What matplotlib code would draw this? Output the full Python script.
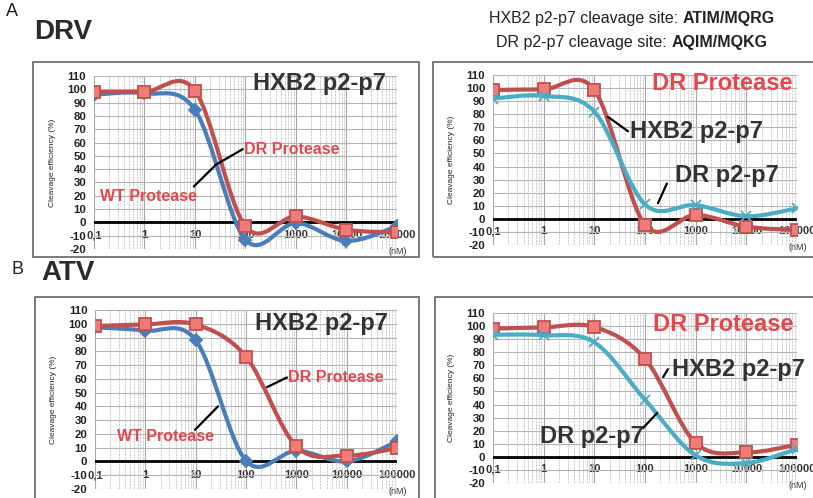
import numpy as np
import matplotlib
matplotlib.use('Agg')
import matplotlib.pyplot as plt
from matplotlib import font_manager
from matplotlib.path import Path
from matplotlib.patches import PathPatch, Rectangle

# concentrations (nM) and cleavage efficiency (%)
conc = [0.1, 1, 10, 100, 1000, 10000, 100000]
conc_labels = ['0,1', '1', '10', '100', '1000', '10000', '100000']
y_ticks = [-20, -10, 0, 10, 20, 30, 40, 50, 60, 70, 80, 90, 100, 110]

drv_wt_hxb2 = [96, 97, 84.5, -13, -0.5, -14, -3]
drv_dr_hxb2 = [98, 98, 99, -3, 4.5, -5.5, -7.5]
drv_drpr_hxb2 = [98.5, 99, 98.5, -4.5, 3, -6, -8.5]
drv_drpr_dr = [92, 94, 82, 11, 10.5, 2, 8]

atv_wt_hxb2 = [97.4, 95, 88, 0.5, 7.7, 0, 14.5]
atv_dr_hxb2 = [98.3, 99.5, 99.5, 76, 11, 4.3, 9.7]
atv_drpr_hxb2 = [98, 99, 99.3, 75, 10.6, 3.4, 9.3]
atv_drpr_dr = [93.4, 93, 87.6, 43.7, 1.1, -4.7, 6]

RED_LINE = '#C0504D'
RED_FACE = '#F07C7A'
BLUE_DARK = '#4A7EBB'
BLUE_LIGHT = '#4BACC6'
RED_TEXT = '#E5474C'
DARK_TEXT = '#333333'

names = {f.name for f in font_manager.fontManager.ttflist}
BASE = 'Liberation Sans' if 'Liberation Sans' in names else 'DejaVu Sans'
NARROW = 'Liberation Sans Narrow' if 'Liberation Sans Narrow' in names else BASE
plt.rcParams['font.family'] = BASE
plt.rcParams['axes.unicode_minus'] = False

W, H = 813, 498
fig = plt.figure(figsize=(W / 100, H / 100), dpi=100)


def px(x, y):
    return x / W, 1 - y / H


def smooth_path(x, y):
    # Excel-like smoothed line: cubic Bezier through the points (log x space)
    pts = np.column_stack([np.log10(x), y]).astype(float)
    n = len(pts)
    verts, codes = [pts[0]], [Path.MOVETO]
    for i in range(n - 1):
        p0, p1 = pts[max(i - 1, 0)], pts[i]
        p2, p3 = pts[i + 1], pts[min(i + 2, n - 1)]
        verts += [p1 + (p2 - p0) / 6, p2 - (p3 - p1) / 6, p2]
        codes += [Path.CURVE4] * 3
    verts = np.array(verts)
    verts[:, 0] = 10 ** verts[:, 0]
    return Path(verts, codes)


def draw_series(ax, y, color, marker, mface, msize, z):
    ax.add_patch(PathPatch(smooth_path(conc, y), fill=False, edgecolor=color,
                           lw=3, zorder=z, capstyle='round'))
    ax.plot(conc, y, ls='none', marker=marker, ms=msize, mfc=mface,
            mec=color, mew=1.3, zorder=z + 0.5)


def setup_axes(rect):
    ax = fig.add_axes(rect)
    ax.set_xscale('log')
    ax.set_xlim(0.1, 100000)
    ax.set_ylim(-20, 110)
    ax.set_yticks(y_ticks)
    ax.set_xticks(conc, conc_labels)
    ax.xaxis.set_minor_locator(matplotlib.ticker.LogLocator(base=10, subs=np.arange(2, 10)))
    ax.xaxis.set_minor_formatter(matplotlib.ticker.NullFormatter())
    ax.grid(True, axis='y', color='#b4b4b4', lw=0.8)
    ax.grid(True, axis='x', which='major', color='#a8a8a8', lw=0.8)
    ax.grid(True, axis='x', which='minor', color='#c8c8c8', lw=0.6, ls=(0, (3, 1)))
    ax.set_axisbelow(True)
    for s in ax.spines.values():
        s.set_visible(False)
    ax.tick_params(axis='both', which='both', length=0)
    ax.tick_params(axis='y', pad=5.5, labelsize=8.2, labelcolor='#222222')
    ax.tick_params(axis='x', pad=-10, labelsize=8, labelcolor='#333333')
    for lab in ax.get_yticklabels() + ax.get_xticklabels():
        lab.set_fontweight('bold')
    for lab in ax.get_xticklabels():
        lab.set_va('center')
    ax.axhline(0, color='black', lw=2, zorder=1.5)
    ax.set_ylabel('Cleavage efficiency (%)', fontsize=6, color='#222222')
    ax.yaxis.set_label_coords(-0.125, 0.5)
    ax.text(1.003, -0.012, '(nM)', transform=ax.transAxes, ha='center', va='center',
            fontsize=6.5, color='#333333')
    return ax


def leader(ax, a, b):
    ax.annotate('', xy=b, xytext=a,
                arrowprops=dict(arrowstyle='-', color='black', lw=1.6, shrinkA=0, shrinkB=0),
                zorder=4)


def label(ax, x, y, s, size, color, ha='left', coords='data'):
    tr = ax.transData if coords == 'data' else ax.transAxes
    ax.text(x, y, s, transform=tr, ha=ha, va='center', fontsize=size,
            fontweight='bold', color=color, zorder=5)


# panel frames
for (x0, y0, x1, y1) in [(33, 62, 419, 257), (433, 62, 816, 257),
                         (35, 297, 419, 502), (435, 297, 816, 502)]:
    fig.add_artist(Rectangle(px(x0, y1), (x1 - x0) / W, (y1 - y0) / H,
                             transform=fig.transFigure, fill=False,
                             edgecolor='#707070', lw=1.3))

# A: DRV, WT vs DR protease on HXB2 p2-p7
ax = setup_axes([0.1156, 0.500, 0.3727, 0.3474])
draw_series(ax, drv_wt_hxb2, BLUE_DARK, 'D', BLUE_DARK, 6, 2)
draw_series(ax, drv_dr_hxb2, RED_LINE, 's', RED_FACE, 9, 3)
label(ax, 0.964, 0.954, 'HXB2 p2-p7', 17, DARK_TEXT, ha='right', coords='axes')
label(ax, 95, 54.5, 'DR Protease', 11.5, RED_TEXT)
label(ax, 0.13, 19.5, 'WT Protease', 11.5, RED_TEXT)
leader(ax, (88, 55), (25, 43))
leader(ax, (9.5, 27), (24, 42))

# A: DRV, DR protease on HXB2 and DR p2-p7
ax = setup_axes([0.6064, 0.508, 0.374, 0.3414])
draw_series(ax, drv_drpr_hxb2, RED_LINE, 's', RED_FACE, 9, 2)
draw_series(ax, drv_drpr_dr, BLUE_LIGHT, 'x', BLUE_LIGHT, 7, 3)
label(ax, 0.984, 0.951, 'DR Protease', 17, RED_TEXT, ha='right', coords='axes')
label(ax, 50, 66.5, 'HXB2 p2-p7', 17, DARK_TEXT)
label(ax, 390, 33.5, 'DR p2-p7', 17, DARK_TEXT)
leader(ax, (46, 67), (18.6, 78))
leader(ax, (270, 27), (180, 12))

# B: ATV, WT vs DR protease on HXB2 p2-p7
ax = setup_axes([0.1169, 0.0181, 0.3715, 0.3594])
draw_series(ax, atv_wt_hxb2, BLUE_DARK, 'D', BLUE_DARK, 6, 2)
draw_series(ax, atv_dr_hxb2, RED_LINE, 's', RED_FACE, 9, 3)
label(ax, 0.970, 0.923, 'HXB2 p2-p7', 17, DARK_TEXT, ha='right', coords='axes')
label(ax, 680, 61, 'DR Protease', 11.5, RED_TEXT)
label(ax, 0.27, 18, 'WT Protease', 11.5, RED_TEXT)
leader(ax, (650, 61), (262, 54))
leader(ax, (9.7, 23), (27.7, 40))

# B: ATV, DR protease on HXB2 and DR p2-p7
ax = setup_axes([0.6064, 0.0301, 0.374, 0.3414])
draw_series(ax, atv_drpr_hxb2, RED_LINE, 's', RED_FACE, 9, 2)
draw_series(ax, atv_drpr_dr, BLUE_LIGHT, 'x', BLUE_LIGHT, 7, 3)
label(ax, 0.987, 0.931, 'DR Protease', 17, RED_TEXT, ha='right', coords='axes')
label(ax, 340, 66.7, 'HXB2 p2-p7', 17, DARK_TEXT)
label(ax, 0.85, 15.7, 'DR p2-p7', 17, DARK_TEXT)
leader(ax, (282, 67), (228, 61))
leader(ax, (91, 22), (173, 33.5))

# panel letters and drug names
fig.text(*px(6, 11), 'A', fontsize=13, family=NARROW, color='#222222', va='center')
fig.text(*px(34, 32), 'DRV', fontsize=20, fontweight='bold', color='#2b2b2b', va='center')
fig.text(*px(11, 270), 'B', fontsize=13, family=NARROW, color='#222222', va='center')
fig.text(*px(41, 273), 'ATV', fontsize=20, fontweight='bold', color='#2b2b2b', va='center')

# cleavage site header, mixed weight
renderer = fig.canvas.get_renderer()
for (plain, bold, yc) in [('HXB2 p2-p7 cleavage site: ', 'ATIM/MQRG', 18),
                          ('DR p2-p7 cleavage site: ', 'AQIM/MQKG', 42)]:
    t1 = fig.text(0, 0, plain, fontsize=11.5, family=NARROW, color='#222222', va='center')
    t2 = fig.text(0, 0, bold, fontsize=11.5, family=NARROW, fontweight='bold',
                  color='#222222', va='center')
    w1 = t1.get_window_extent(renderer).width
    w2 = t2.get_window_extent(renderer).width
    x0 = 632 - (w1 + w2) / 2
    t1.set_position(px(x0, yc))
    t2.set_position(px(x0 + w1, yc))

fig.savefig('out.png', dpi=100, facecolor='white')
